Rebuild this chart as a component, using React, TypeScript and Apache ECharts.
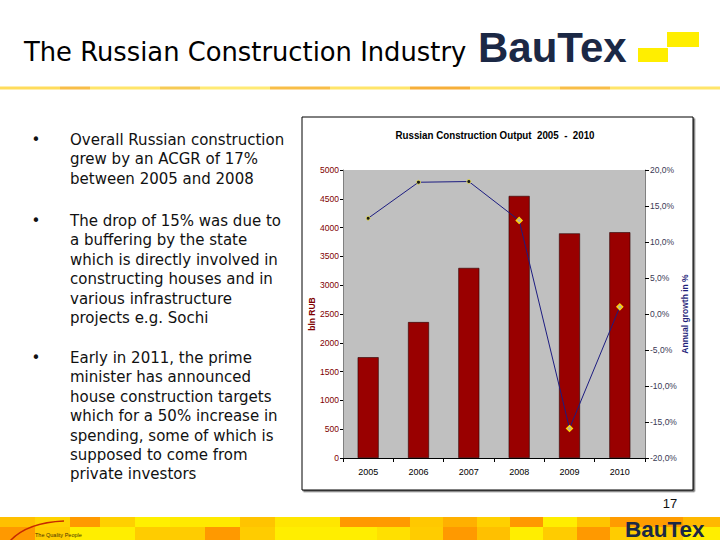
import React, { useEffect, useRef } from "react";
import * as echarts from "echarts";

const years = ["2005", "2006", "2007", "2008", "2009", "2010"];
const outputBlnRub = [1750, 2360, 3300, 4550, 3900, 3920];
const growthPct = [13.3, 18.3, 18.4, 13.0, -15.9, 1.0];

const chartTitle = "Russian Construction Output  2005  -  2010";
const leftAxisName = "bln RUB";
const rightAxisName = "Annual growth in %";
const slideTitle = "The Russian Construction Industry";
const pageNumber = "17";

const bullet1 = ["Overall Russian construction", "grew by an ACGR of 17%", "between 2005 and 2008"];
const bullet2 = [
  "The drop of 15% was due to",
  "a buffering by the state",
  "which is directly involved in",
  "constructing houses and in",
  "various infrastructure",
  "projects e.g. Sochi",
];
const bullet3 = [
  "Early in 2011, the prime",
  "minister has announced",
  "house construction targets",
  "which for a 50% increase in",
  "spending, some of which is",
  "supposed to come from",
  "private investors",
];

// decorative mosaic strips [x, width, color]
const mosaicTop: [number, number, string][] = [
  [0, 35, "#FFC000"], [35, 35, "#FFD200"], [70, 30, "#FF9A00"], [100, 35, "#FFD000"],
  [135, 35, "#FFF000"], [170, 70, "#FFEA00"], [240, 35, "#FFC400"], [275, 65, "#FFE600"],
  [340, 37, "#FF9900"], [377, 33, "#FF9A00"], [410, 33, "#FFC800"], [443, 34, "#FFB000"],
  [477, 33, "#FFD000"], [510, 33, "#FF9900"], [543, 34, "#FFEE00"], [577, 33, "#FFC400"],
  [610, 73, "#FF9C00"], [683, 37, "#FFB800"],
];
const mosaicBottom: [number, number, string][] = [
  [0, 35, "#FF9900"], [35, 35, "#FFCC00"], [70, 65, "#FFEE00"], [135, 70, "#FFCC00"],
  [205, 35, "#FF9900"], [240, 35, "#FFCC00"], [275, 65, "#FFEE00"], [340, 37, "#FFEE00"],
  [377, 33, "#FFE000"], [410, 33, "#FFCC00"], [443, 34, "#FF9900"], [477, 33, "#FFC000"],
  [510, 33, "#FFEE00"], [543, 34, "#FFCC00"], [577, 33, "#FF9900"], [610, 73, "#FFCC00"],
  [683, 37, "#FFEE00"],
];
const underlineSegs: [number, number, string][] = [
  [0, 60, "#FFD84A"], [60, 30, "#F7B733"], [90, 70, "#FFE25A"], [160, 40, "#F5C542"],
  [200, 70, "#FFE866"], [270, 60, "#F7B733"], [330, 80, "#FFE25A"], [410, 60, "#F5A623"],
  [470, 90, "#FFE25A"], [560, 50, "#F7B733"], [610, 110, "#FFE25A"],
];

export default function App() {
  const ref = useRef<HTMLDivElement>(null);

  useEffect(() => {
    if (!ref.current) return;
    const chart = echarts.init(ref.current, undefined, { renderer: "svg" });

    const bulletFont = "'DejaVu Sans', sans-serif";
    const lh = 19.4;
    const bulletBlock = (lines: string[], y0: number) => [
      {
        type: "text",
        x: 36,
        y: y0,
        style: { text: "•", font: `15px ${bulletFont}`, fill: "#111", align: "center", verticalAlign: "middle" },
      },
      {
        type: "text",
        x: 70,
        y: y0 - lh / 2,
        style: {
          text: lines.join("\n"),
          fontFamily: "DejaVu Sans",
          fontSize: 15,
          lineHeight: lh,
          fill: "#111",
          align: "left",
          verticalAlign: "top",
        },
      },
    ];

    const graphics: any[] = [];
    // title underline
    underlineSegs.forEach(([x, w, c]) =>
      graphics.push({ type: "rect", shape: { x, y: 86.5, width: w, height: 3 }, style: { fill: c, opacity: 0.9 }, silent: true })
    );
    graphics.push({
      type: "text",
      x: 24,
      y: 52,
      style: { text: slideTitle, fontFamily: "DejaVu Sans", fontSize: 25.8, fill: "#000", verticalAlign: "middle" },
    });
    graphics.push({
      type: "text",
      x: 478,
      y: 47,
      style: { text: "BauTex", fontFamily: "Liberation Sans", fontWeight: "bold", fontSize: 42, fill: "#1B2845", verticalAlign: "middle" },
    });
    graphics.push({ type: "rect", shape: { x: 638, y: 48, width: 30, height: 14 }, style: { fill: "#FFEE00" } });
    graphics.push({ type: "rect", shape: { x: 667, y: 32, width: 32, height: 15 }, style: { fill: "#FFEE00" } });

    // chart frame
    graphics.push({
      type: "rect",
      z: -10,
      shape: { x: 302, y: 117, width: 391, height: 373 },
      style: { fill: "#fff", stroke: "#000", lineWidth: 1, shadowColor: "rgba(0,0,0,0.6)", shadowOffsetX: 1.5, shadowOffsetY: 1.5, shadowBlur: 0 },
    });
    graphics.push({
      type: "text",
      x: 495,
      y: 135,
      scaleX: 0.85,
      style: { text: chartTitle, fontFamily: "Liberation Sans", fontWeight: "bold", fontSize: 11.5, fill: "#000", align: "center", verticalAlign: "middle" },
    });

    graphics.push(...bulletBlock(bullet1, 140));
    graphics.push(...bulletBlock(bullet2, 221));
    graphics.push(...bulletBlock(bullet3, 358));

    graphics.push({
      type: "text",
      x: 670,
      y: 503,
      style: { text: pageNumber, fontFamily: "Liberation Sans", fontSize: 13, fill: "#111", align: "center", verticalAlign: "middle" },
    });

    // bottom mosaic
    mosaicTop.forEach(([x, w, c]) =>
      graphics.push({ type: "rect", shape: { x, y: 517, width: w, height: 10 }, style: { fill: c }, silent: true })
    );
    mosaicBottom.forEach(([x, w, c]) =>
      graphics.push({ type: "rect", shape: { x, y: 527, width: w, height: 13 }, style: { fill: c }, silent: true })
    );
    graphics.push({
      type: "bezierCurve",
      shape: { x1: 10, y1: 541, cpx1: 22, cpy1: 528, cpx2: 40, cpy2: 522, x2: 64, y2: 521 },
      style: { stroke: "#C62A00", lineWidth: 1.5, fill: "none" },
    });
    graphics.push({
      type: "text",
      x: 35,
      y: 535,
      style: { text: "The Quality People", fontFamily: "Liberation Sans", fontSize: 5.5, fill: "#4A3300", verticalAlign: "middle" },
    });
    graphics.push({
      type: "text",
      x: 625,
      y: 529,
      style: { text: "BauTex", fontFamily: "Liberation Sans", fontWeight: "bold", fontSize: 22.5, fill: "#1B2845", verticalAlign: "middle" },
    });

    chart.setOption({
      animation: false,
      backgroundColor: "#fff",
      grid: {
        left: 343,
        top: 170,
        width: 302,
        height: 288,
        show: true,
        backgroundColor: "#C0C0C0",
        borderWidth: 0,
      },
      xAxis: {
        type: "category",
        data: years,
        axisLine: { lineStyle: { color: "#000", width: 1 } },
        axisTick: { show: true, length: 4, lineStyle: { color: "#000" } },
        axisLabel: { color: "#000", fontFamily: "Liberation Sans", fontSize: 9, margin: 9 },
      },
      yAxis: [
        {
          type: "value",
          min: 0,
          max: 5000,
          interval: 500,
          position: "left",
          splitLine: { show: false },
          axisLine: { show: true, lineStyle: { color: "#808080" } },
          axisTick: { show: true, length: 3, lineStyle: { color: "#000" } },
          axisLabel: {
            color: "#800000",
            fontFamily: "Liberation Sans",
            fontSize: 8.5,
            margin: 4,
            formatter: (v: number) => String(v),
          },
          name: leftAxisName,
          nameLocation: "middle",
          nameRotate: 90,
          nameGap: 27,
          nameTextStyle: { color: "#800000", fontFamily: "Liberation Sans", fontWeight: "bold", fontSize: 8.5 },
        },
        {
          type: "value",
          min: -20,
          max: 20,
          interval: 5,
          position: "right",
          splitLine: { show: false },
          axisLine: { show: true, lineStyle: { color: "#808080" } },
          axisTick: { show: true, length: 4, lineStyle: { color: "#000" } },
          axisLabel: {
            color: "#3A3A55",
            fontFamily: "Liberation Sans",
            fontSize: 8.5,
            margin: 5,
            formatter: (v: number) => v.toFixed(1).replace(".", ",") + "%",
          },
          name: rightAxisName,
          nameLocation: "middle",
          nameRotate: 90,
          nameGap: 34,
          nameTextStyle: { color: "#1F1F7A", fontFamily: "Liberation Sans", fontWeight: "bold", fontSize: 8.5 },
        },
      ],
      series: [
        {
          type: "bar",
          yAxisIndex: 0,
          data: outputBlnRub,
          barWidth: 21,
          itemStyle: { color: "#990000", borderColor: "#2A0000", borderWidth: 0.6 },
          z: 2,
        },
        {
          type: "line",
          yAxisIndex: 1,
          data: growthPct.map((v, i) =>
            i < 3
              ? { value: v, symbol: "circle", symbolSize: 4, itemStyle: { color: "#1A1A1A", borderColor: "#E8E060", borderWidth: 1 } }
              : { value: v, symbol: "diamond", symbolSize: 6, itemStyle: { color: "#B8B0A0", borderColor: "#FFD700", borderWidth: 1.2 } }
          ),
          lineStyle: { color: "#1C1C80", width: 1 },
          z: 3,
        },
      ],
      graphic: graphics,
    });

    return () => chart.dispose();
  }, []);

  return (
    <div
      ref={ref}
      style={{ position: "fixed", left: 0, top: 0, width: 720, height: 540, background: "#fff" }}
    />
  );
}
